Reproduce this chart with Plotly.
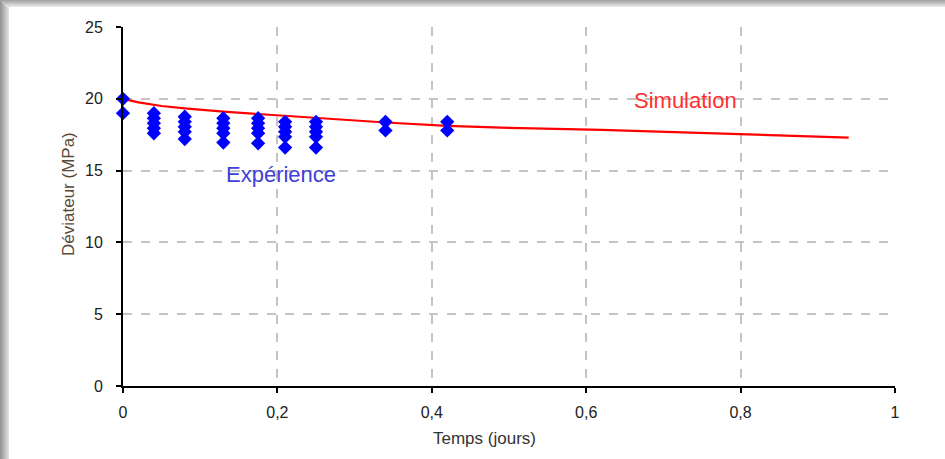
import plotly.graph_objects as go

# Experimental deviator measurements (MPa) against time (days)
exp_time = [0, 0,
            0.04, 0.04, 0.04, 0.04, 0.04,
            0.08, 0.08, 0.08, 0.08, 0.08,
            0.13, 0.13, 0.13, 0.13, 0.13,
            0.175, 0.175, 0.175, 0.175, 0.175,
            0.21, 0.21, 0.21, 0.21, 0.21,
            0.25, 0.25, 0.25, 0.25, 0.25,
            0.34, 0.34,
            0.42, 0.42]
exp_dev = [20.0, 19.0,
           19.0, 18.65, 18.3, 17.95, 17.6,
           18.75, 18.4, 18.05, 17.7, 17.2,
           18.65, 18.3, 17.95, 17.6, 16.95,
           18.65, 18.3, 17.95, 17.6, 16.9,
           18.4, 18.05, 17.7, 17.35, 16.6,
           18.4, 18.05, 17.7, 17.35, 16.6,
           18.4, 17.8,
           18.4, 17.8]

# Simulated deviator curve
sim_time = [0, 0.02, 0.05, 0.08, 0.13, 0.2, 0.25, 0.34, 0.42, 0.5, 0.62, 0.8, 0.94]
sim_dev = [20.0, 19.75, 19.5, 19.33, 19.1, 18.85, 18.65, 18.35, 18.12, 17.98, 17.83, 17.53, 17.3]

x_ticks = [0, 0.2, 0.4, 0.6, 0.8, 1]
x_tick_text = ["0", "0,2", "0,4", "0,6", "0,8", "1"]
y_ticks = [0, 5, 10, 15, 20, 25]

FONT = "Liberation Sans, Arial, sans-serif"

fig = go.Figure()
fig.add_trace(go.Scatter(x=sim_time, y=sim_dev, mode="lines",
                         line=dict(color="#ff0000", width=2.2),
                         showlegend=False, cliponaxis=False))
fig.add_trace(go.Scatter(x=exp_time, y=exp_dev, mode="markers",
                         marker=dict(symbol="diamond", size=11, color="#0000ff",
                                     line=dict(width=0)),
                         showlegend=False, cliponaxis=False))

fig.add_annotation(x=0.729, y=19.85, text="Simulation", showarrow=False,
                   xanchor="center", yanchor="middle",
                   font=dict(family=FONT, size=22, color="#ff3030"))
fig.add_annotation(x=0.205, y=14.7, text="Expérience", showarrow=False,
                   xanchor="center", yanchor="middle",
                   font=dict(family=FONT, size=22, color="#4040d8"))

# Plot-area geometry in pixels
L, T, PW, PH = 123, 27, 772, 359
def px(x):
    return (x - L) / PW
def py(y):
    return (T + PH - y) / PH

# Axis titles
fig.add_annotation(xref="paper", yref="paper", x=px(484), y=py(438),
                   xanchor="center", yanchor="middle",
                   text="Temps (jours)", showarrow=False,
                   font=dict(family=FONT, size=17, color="#333333"))
fig.add_annotation(xref="paper", yref="paper", x=px(68), y=py(194),
                   xanchor="center", yanchor="middle",
                   text="Déviateur (MPa)", showarrow=False, textangle=-90,
                   font=dict(family=FONT, size=17, color="#5a4a3a"))

# Grey shaded frame along the left and top edges
shapes = []
n = 9
for i in range(n):
    g = int(150 + (225 - 150) * i / (n - 1))
    col = f"rgb({g},{g},{g})"
    shapes.append(dict(type="rect", xref="paper", yref="paper", layer="above",
                       x0=px(i), x1=px(i + 1), y0=py(459), y1=py(0),
                       fillcolor=col, line=dict(width=0)))
m = 7
for i in range(m):
    g = int(165 + (230 - 165) * i / (m - 1))
    col = f"rgb({g},{g},{g})"
    shapes.append(dict(type="rect", xref="paper", yref="paper", layer="above",
                       x0=px(i), x1=px(945), y0=py(i), y1=py(i + 1),
                       fillcolor=col, line=dict(width=0)))
fig.update_layout(shapes=shapes)

fig.update_layout(
    width=945, height=459,
    margin=dict(l=L, r=945 - L - PW, t=T, b=459 - T - PH),
    paper_bgcolor="white", plot_bgcolor="white",
    font=dict(family=FONT, color="#222222"),
    xaxis=dict(range=[0, 1], tickvals=x_ticks, ticktext=x_tick_text,
               showgrid=True, gridcolor="#c4c4c4", griddash="dash", gridwidth=1.5,
               showline=True, linecolor="black", linewidth=2,
               ticks="outside", ticklen=5, tickcolor="black", tickwidth=1.5,
               ticklabelstandoff=6,
               tickfont=dict(size=16, color="#222222"), zeroline=False),
    yaxis=dict(range=[0, 25], tickvals=y_ticks,
               showgrid=True, gridcolor="#c4c4c4", griddash="dash", gridwidth=1.5,
               showline=True, linecolor="black", linewidth=2,
               ticks="outside", ticklen=5, tickcolor="black", tickwidth=1.5,
               ticklabelstandoff=10,
               tickfont=dict(size=16, color="#222222"), zeroline=False),
)

fig.write_html("out.html")
